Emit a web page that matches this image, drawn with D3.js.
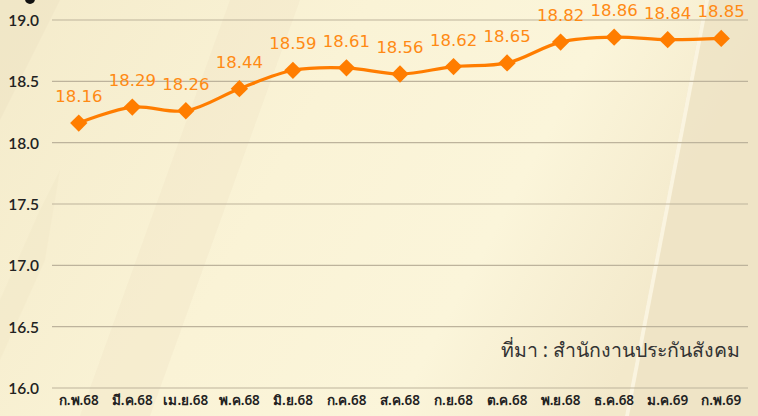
<!DOCTYPE html>
<html><head><meta charset="utf-8">
<script src="https://cdn.jsdelivr.net/npm/d3@7"></script>
<style>html,body{margin:0;padding:0;}svg{display:block;}</style>
</head><body>
<svg id="c" width="758" height="416"></svg>
<script>
const categories = ["ก.พ.68","มี.ค.68","เม.ย.68","พ.ค.68","มิ.ย.68","ก.ค.68","ส.ค.68","ก.ย.68","ต.ค.68","พ.ย.68","ธ.ค.68","ม.ค.69","ก.พ.69"];
const values = [18.16,18.29,18.26,18.44,18.59,18.61,18.56,18.62,18.65,18.82,18.86,18.84,18.85];
const yTicks = [16.0,16.5,17.0,17.5,18.0,18.5,19.0];
const sourceText = "ที่มา : สำนักงานประกันสังคม";

const W = 758, H = 416;
const svg = d3.select("#c");
const defs = svg.append("defs");
const g1 = defs.append("linearGradient").attr("id","bg").attr("x1","0").attr("y1","0").attr("x2","1").attr("y2","0.3");
g1.append("stop").attr("offset","0").attr("stop-color","#f4ebcb");
g1.append("stop").attr("offset","0.45").attr("stop-color","#faf3d6");
g1.append("stop").attr("offset","0.75").attr("stop-color","#fbf5da");
g1.append("stop").attr("offset","1").attr("stop-color","#f3e9cb");
svg.append("rect").attr("width",W).attr("height",H).attr("fill","url(#bg)");
svg.append("path").attr("d","M230,0 L300,0 L150,416 L80,416 Z").attr("fill","#ede2c2").attr("opacity",0.3);
svg.append("path").attr("d","M0,120 L60,0 L0,0 Z").attr("fill","#ece1c0").attr("opacity",0.4);
svg.append("path").attr("d","M705,0 L758,0 L758,416 L625,416 Z").attr("fill","#ede2c4").attr("opacity",0.8);
svg.append("path").attr("d","M705,0 L709,0 L629,416 L625,416 Z").attr("fill","#fdf8e6").attr("opacity",0.8);
svg.append("path").attr("d","M0,300 L40,210 L60,170 L45,260 L0,360 Z").attr("fill","#efe5c6").attr("opacity",0.4);

// cut-off title remnant at top
svg.append("circle").attr("cx",30).attr("cy",-1).attr("r",5).attr("fill","#111");

const x = d3.scaleBand().domain(categories).range([52,748]);
const y = d3.scaleLinear().domain([16,19]).range([388,20]);

svg.append("g").selectAll("line").data(yTicks).join("line")
  .attr("x1",52).attr("x2",748).attr("y1",d=>y(d)).attr("y2",d=>y(d))
  .attr("stroke","#bdb39c").attr("stroke-width",1.2);

const yAxis = d3.axisLeft(y).tickValues(yTicks).tickFormat(d3.format(".1f")).tickSize(0).tickPadding(0);
const ya = svg.append("g").attr("transform","translate(39,0)").call(yAxis);
ya.select(".domain").remove();
ya.selectAll("text").attr("font-family","Lato, 'Noto Sans', sans-serif").attr("font-size",15.5).attr("font-weight","600").attr("fill","#222").attr("dy","0.35em");

const xAxis = d3.axisBottom(x).tickSize(0).tickPadding(0);
const xa = svg.append("g").attr("transform","translate(0,396)").call(xAxis);
xa.select(".domain").remove();
xa.selectAll("text").attr("font-family","'Noto Sans', sans-serif").attr("font-size",13.5).attr("font-weight","600").attr("fill","#222").attr("dy","0.7em");

const cx = d => x(d) + x.bandwidth()/2;
const pts = categories.map((c,i)=>[cx(c), y(values[i])]);
const line = d3.line().curve(d3.curveCatmullRom.alpha(0.5));
svg.append("path").attr("d",line(pts)).attr("fill","none").attr("stroke","#ff7d00").attr("stroke-width",3.2);

svg.append("g").selectAll("path").data(pts).join("path")
  .attr("d",d3.symbol(d3.symbolSquare, 150)())
  .attr("transform",d=>`translate(${d[0]},${d[1]}) rotate(45)`)
  .attr("fill","#ff7d00");

svg.append("g").selectAll("text").data(values).join("text")
  .attr("x",(d,i)=>cx(categories[i])).attr("y",d=>y(d)-21)
  .attr("text-anchor","middle")
  .attr("font-family","'DejaVu Sans', sans-serif").attr("font-size",16.5)
  .attr("fill","#ff8a14").text(d=>d.toFixed(2));

svg.append("text").attr("x",740).attr("y",357).attr("text-anchor","end")
  .attr("font-family","'Noto Sans', sans-serif").attr("font-size",19.5)
  .attr("fill","#333").text(sourceText);
</script>
</body></html>
